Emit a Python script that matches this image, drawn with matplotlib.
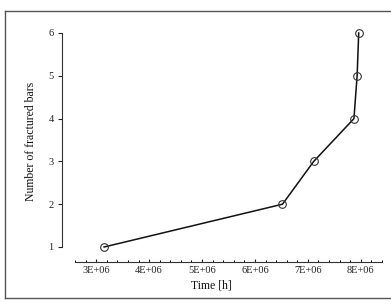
import matplotlib
matplotlib.use('Agg')
import matplotlib.pyplot as plt
from matplotlib.lines import Line2D
from matplotlib.ticker import MultipleLocator, FuncFormatter

plt.rcParams['font.family'] = ['Liberation Serif', 'DejaVu Serif']

# data
time_h = [3.15e6, 6.52e6, 7.11e6, 7.87e6, 7.93e6, 7.96e6]
fractured = [1, 2, 3, 4, 5, 6]
y_ticks = [1, 2, 3, 4, 5, 6]

W, H = 391, 303
fig = plt.figure(figsize=(W / 100, H / 100), dpi=100)
ax = fig.add_axes([75 / W, 1 - 247 / H, (382 - 75) / W, (247 - 33) / H])

ax.plot(time_h, fractured, color='#111111', lw=1.1, marker='o', ms=5.5,
        mfc='none', mec='#333333', mew=0.8, clip_on=False)

ax.set_xlim(2.6e6, 8.4e6)
ax.set_ylim(1, 6)
ax.set_yticks(y_ticks)
ax.xaxis.set_major_locator(MultipleLocator(1e6))
ax.xaxis.set_minor_locator(MultipleLocator(2e5))
ax.xaxis.set_major_formatter(FuncFormatter(lambda v, p: f'{v:.0E}'))

for s in ['top', 'right']:
    ax.spines[s].set_visible(False)
# offsets in points (13 px and 15 px)
ax.spines['left'].set_position(('outward', 13 * 0.72))
ax.spines['bottom'].set_position(('outward', 15 * 0.72))
for s in ['left', 'bottom']:
    ax.spines[s].set_linewidth(0.8)
    ax.spines[s].set_color('#333333')

ax.tick_params(axis='y', direction='out', length=3, width=0.8, pad=3,
               labelsize=7.5, colors='#222222')
ax.tick_params(axis='x', which='major', direction='in', length=2.5, width=0.8,
               pad=3, labelsize=7.5, colors='#222222')
ax.tick_params(axis='x', which='minor', direction='in', length=1.6, width=0.7)

fig.text(31 / W, 1 - 141 / H, 'Number of fractured bars', rotation=90,
         ha='center', va='center', fontsize=8.5, color='#111111')
fig.text(211 / W, 1 - 285 / H, 'Time [h]', ha='center', va='center',
         fontsize=8.5, color='#111111')

# outer frame
fl, ft, fb = 5 / W, 1 - 11 / H, 1 - 298 / H
for xs, ys in [([fl, fl], [fb, ft]), ([fl, 1.01], [ft, ft]), ([fl, 1.01], [fb, fb])]:
    fig.add_artist(Line2D(xs, ys, transform=fig.transFigure, color='#555555', lw=1.0))

fig.savefig('out.png', dpi=100)
